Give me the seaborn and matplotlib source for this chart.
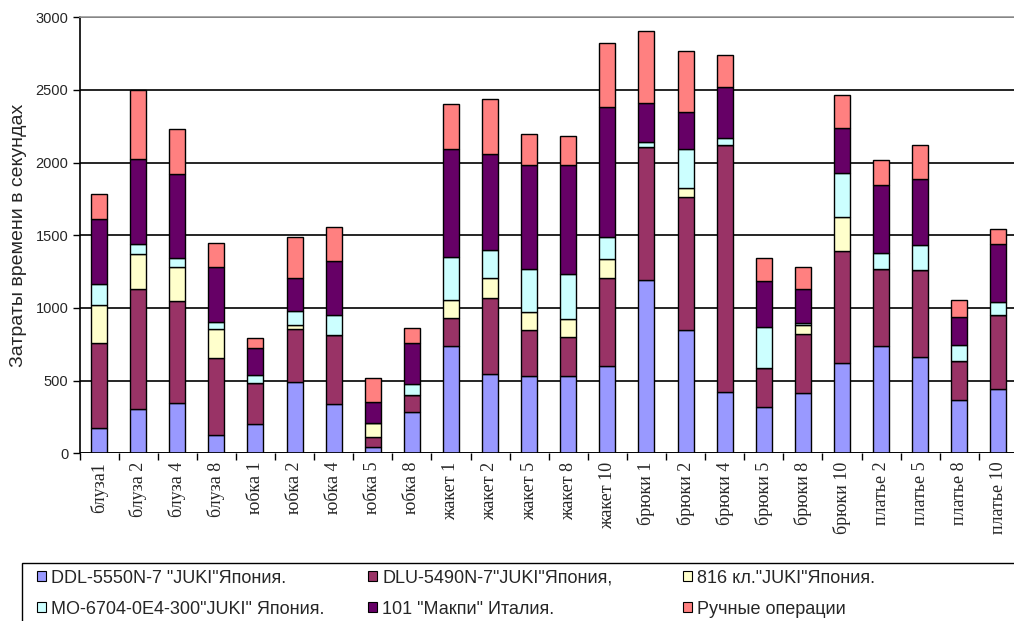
import matplotlib
matplotlib.use("Agg")
import matplotlib.pyplot as plt
import numpy as np
import seaborn as sns
from matplotlib.patches import Patch, Rectangle
from matplotlib.ticker import FixedLocator

categories = [
    "блуза1", "блуза 2", "блуза 4", "блуза 8",
    "юбка 1", "юбка 2", "юбка 4", "юбка 5", "юбка 8",
    "жакет 1", "жакет 2", "жакет 5", "жакет 8", "жакет 10",
    "брюки 1", "брюки 2", "брюки 4", "брюки 5", "брюки 8", "брюки 10",
    "платье 2", "платье 5", "платье 8", "платье 10",
]

ddl = [172, 303, 349, 126, 200, 489, 340, 41, 282, 739, 544, 535, 535, 601,
       1193, 849, 424, 321, 413, 619, 739, 665, 367, 440]
dlu = [585, 828, 697, 530, 282, 369, 474, 74, 119, 195, 527, 314, 268, 603,
       913, 913, 1700, 269, 406, 771, 527, 594, 268, 512]
kl816 = [262, 241, 234, 197, 0, 23, 0, 91, 0, 121, 133, 121, 121, 131,
         0, 66, 0, 0, 64, 234, 0, 0, 0, 0]
mo = [146, 66, 67, 53, 59, 99, 138, 0, 76, 298, 195, 301, 308, 156,
      37, 266, 48, 277, 16, 305, 115, 175, 111, 92]
makpi = [448, 585, 575, 376, 182, 229, 374, 150, 280, 744, 661, 716, 755, 895,
         270, 253, 351, 319, 230, 308, 463, 456, 195, 394]
manual = [169, 477, 308, 166, 73, 282, 229, 160, 103, 307, 381, 213, 195, 436,
          493, 420, 216, 161, 151, 231, 175, 234, 114, 103]

series_names = [
    'DDL-5550N-7 "JUKI"Япония.',
    'DLU-5490N-7"JUKI"Япония,',
    '816 кл."JUKI"Япония.',
    'MO-6704-0E4-300"JUKI" Япония.',
    '101 "Макпи" Италия.',
    "Ручные операции",
]
series_values = [ddl, dlu, kl816, mo, makpi, manual]
colors = ["#9999FF", "#993366", "#FFFFCC", "#CCFFFF", "#660066", "#FF8080"]

sns.set_style("white")
plt.rcParams["font.family"] = ["Liberation Sans", "DejaVu Sans"]

W, H = 1014, 621
fig = plt.figure(figsize=(W / 100, H / 100), dpi=100)
ax = fig.add_axes([79.5 / W, (H - 453.3) / H, (W - 79.5) / W, 436 / H])

bottom = np.zeros(len(categories))
for name, vals, col in zip(series_names, series_values, colors):
    sns.barplot(x=categories, y=vals, bottom=bottom, color=col, width=0.41,
                edgecolor="black", linewidth=1.0, saturation=1, ax=ax, zorder=3)
    bottom += np.array(vals)

ax.set_xlim(-0.5, 23.4)
ax.set_ylim(0, 3000)
ax.set_yticks(range(0, 3001, 500))
ax.yaxis.grid(True, color="black", linewidth=1.2, zorder=0)
ax.set_axisbelow(True)

for s in ["right", "bottom"]:
    ax.spines[s].set_visible(False)
ax.spines["top"].set_color("#999999")
ax.spines["top"].set_linewidth(1.2)
ax.spines["left"].set_color("black")
ax.spines["left"].set_linewidth(1.2)
ax.axhline(0, color="black", linewidth=1.2, zorder=4)

ax.tick_params(axis="y", which="major", direction="out", length=5, width=1,
               color="black", labelsize=10.5, pad=3, left=True)
ax.tick_params(axis="x", which="major", length=0, pad=6)
ax.xaxis.set_minor_locator(FixedLocator(np.arange(-0.5, 24, 1.0)))
ax.tick_params(axis="x", which="minor", direction="out", length=5, width=1,
               color="black", bottom=True)
ax.set_xticks(range(len(categories)))
ax.set_xticklabels(categories, rotation=90, family=["Liberation Serif", "DejaVu Serif"],
                   fontsize=13)
ax.set_xlabel("")
ax.set_ylabel("Затраты времени в секундах", fontsize=14, labelpad=6)

# legend frame (runs past the bottom and right edges as in the reference)
fig.patches.append(Rectangle((22 / W, -0.05), 1.0, (H - 563) / H + 0.05,
                             transform=fig.transFigure, facecolor="none",
                             edgecolor="black", linewidth=1.0))

handles = [Patch(facecolor=c, edgecolor="black", linewidth=0.8) for c in colors]
col_x = [33, 364, 679]
for j, x0 in enumerate(col_x):
    idx = [j, j + 3]
    fig.legend([handles[i] for i in idx], [series_names[i] for i in idx],
               loc="upper left", bbox_to_anchor=(x0 / W, (H - 566) / H),
               ncol=1, frameon=False, fontsize=13, handlelength=0.5,
               handleheight=0.5, handletextpad=0.3, borderpad=0.2,
               labelspacing=0.78, borderaxespad=0)

fig.savefig("out.png", dpi=100)
